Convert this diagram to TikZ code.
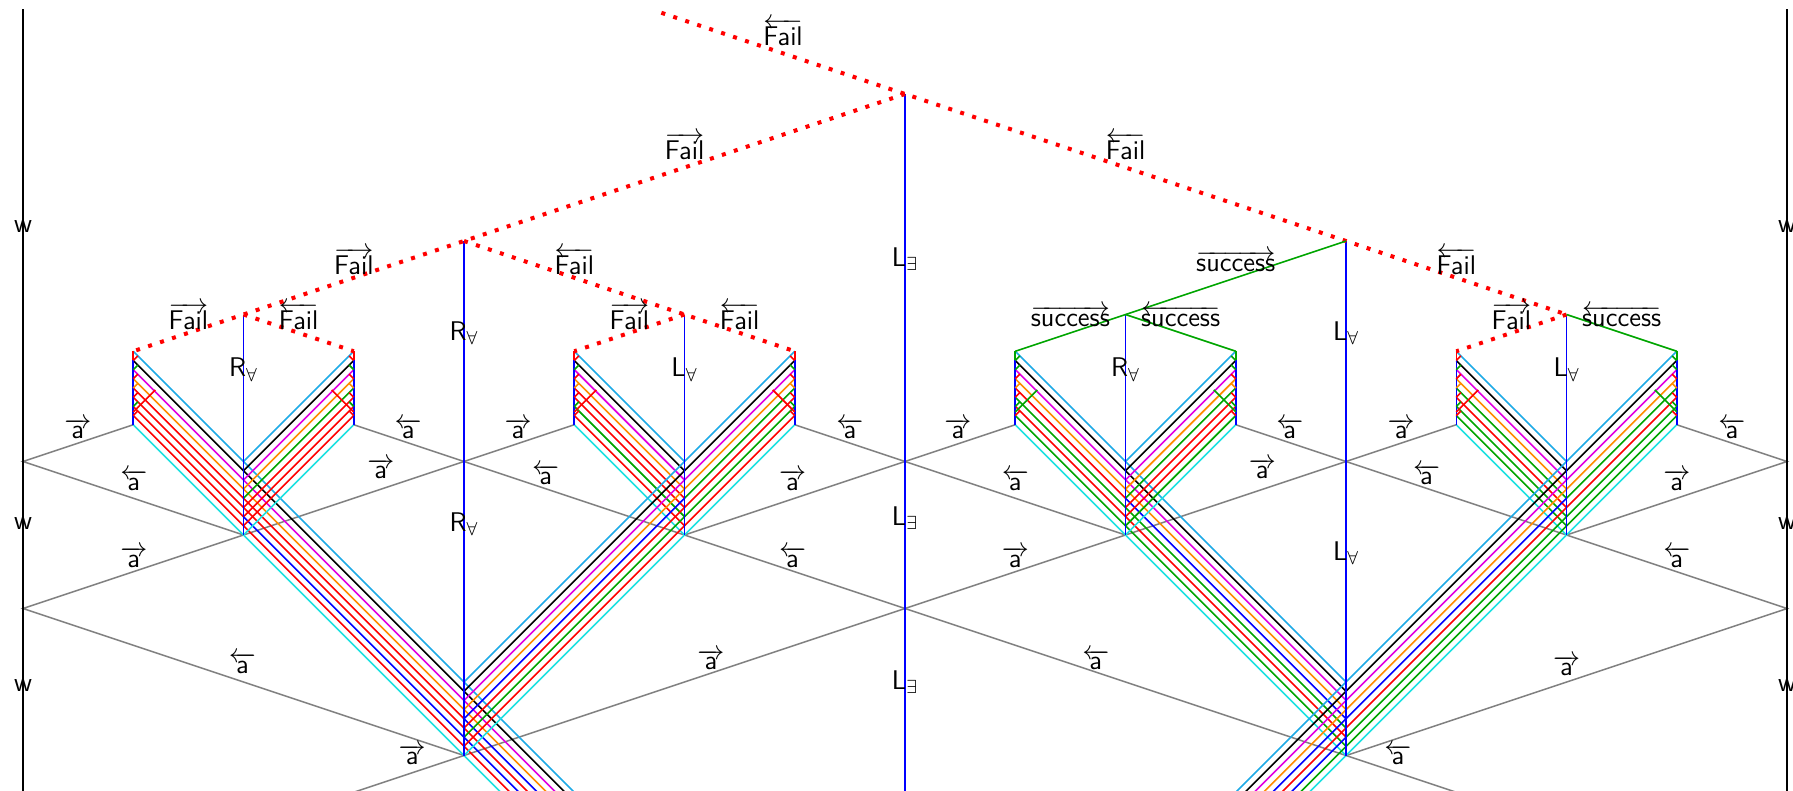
\RequirePackage{fix-cm}
\documentclass[tikz,border=0pt]{standalone}
\usepackage{fontspec}
\definecolor{lb}{RGB}{30,170,230}
\definecolor{cy}{RGB}{30,225,225}
\definecolor{mg}{RGB}{225,0,225}
\definecolor{og}{RGB}{255,140,0}
\definecolor{gr}{RGB}{0,165,0}
\definecolor{rd}{RGB}{255,0,0}
\definecolor{bu}{RGB}{0,0,255}
\definecolor{bk}{RGB}{0,0,0}
\definecolor{gy}{RGB}{128,128,128}

% a bundle of nine parallel strands leaving the box edge at column #1,
% heading in direction #2 (+1 right, -1 left), drawn between the
% horizontal distances #3 and #4 from the box, one colour per strand
\newcommand\strands[5]{%
  \foreach \col [count=\k from 0] in {#5}{%
    \draw[strand,\col] ({#1+(#2)*(#3)},{7+\k/4+3*(#3)}) -- ({#1+(#2)*(#4)},{7+\k/4+3*(#4)});
  }}

% the vertical edge of a box with its small reflected stubs
\newcommand\boxedge[3]{%
  \draw[strand,bu] (#1,7.25) -- (#1,9);
  \draw[strand,#3] (#1,7) -- (#1,7.25);
  \foreach \k/\col in {1/#3,2/gr,3/rd,4/og,5/rd,6/gr,7/rd}
    \draw[stub,\col] (#1,{7+\k/4}) -- ({#1+(#2)/24},{7+\k/4-1/8});
  \draw[stub,#3] (#1,8.65) -- ({#1+(#2)*0.2},8.05);
}

\begin{document}
\begin{tikzpicture}[x=55.125pt,y=-18.375pt,
  every node/.style={font=\fontsize{13.5}{16}\selectfont\sffamily,inner sep=0pt},
  gline/.style={gy,line width=0.75pt},
  strand/.style={line width=0.8pt},
  stub/.style={line width=0.8pt},
  vline/.style={bu,line width=0.8pt},
  wall/.style={black,line width=0.9pt},
  failedge/.style={rd,line width=2pt,dash pattern=on 2pt off 4.3pt},
  okedge/.style={gr,line width=0.8pt}]
\useasboundingbox (-0.2086,-2.558) rectangle (16.054,18.939);
\clip (-0.2086,-2.558) rectangle (16.054,18.939);

% tree nodes
\coordinate (start) at (5.79,-2.21);
\coordinate (root) at (8,0);
\coordinate (nL) at (4,4);
\coordinate (nR) at (12,4);
\coordinate (nLL) at (2,6);
\coordinate (nLR) at (6,6);
\coordinate (nRL) at (10,6);
\coordinate (nRR) at (14,6);
\foreach \c in {1,3,5,7,9,11,13,15}{
  \coordinate (b\c) at (\c,7);
  \coordinate (bb\c) at (\c,9);
}
% lattice vertices
\coordinate (v0) at (0,10);
\coordinate (v2) at (2,12);
\coordinate (v4) at (4,10);
\coordinate (v6) at (6,12);
\coordinate (v8) at (8,10);
\coordinate (v10) at (10,12);
\coordinate (v12) at (12,10);
\coordinate (v14) at (14,12);
\coordinate (v16) at (16,10);
\coordinate (w0) at (0,14);
\coordinate (w8) at (8,14);
\coordinate (w16) at (16,14);
\coordinate (z4) at (4,18);
\coordinate (z12) at (12,18);
\coordinate (exR) at (13,19);
\coordinate (exL) at (3,19);
\coordinate (topL) at (0,-2.3);
\coordinate (botL) at (0,19.2);
\coordinate (topR) at (16,-2.3);
\coordinate (botR) at (16,19.2);
\coordinate (botM) at (8,19.2);

% gray lattice
\draw[gline] (bb1) -- (v0) -- (v2);
\draw[gline] (bb5) -- (w0) -- (z4);
\draw[gline] (bb3) -- (exR);
\draw[gline] (bb7) -- (v10);
\draw[gline] (bb9) -- (v6);
\draw[gline] (bb15) -- (v16) -- (v14);
\draw[gline] (bb11) -- (w16) -- (z12);
\draw[gline] (bb13) -- (exL);

% strand bundles
\strands{1}{1}{0}{1}{lb,bk,mg,og,rd,rd,rd,rd,cy}
\strands{1}{1}{1}{3}{lb,bk,mg,og,rd,rd,bu,rd,cy}
\strands{1}{1}{3}{5}{lb,bk,mg,og,bu,rd,bu,rd,cy}
\strands{3}{-1}{0}{1}{lb,bk,mg,og,gr,rd,rd,rd,cy}
\strands{5}{1}{0}{1}{lb,bk,mg,og,rd,rd,gr,rd,cy}
\strands{7}{-1}{0}{1}{lb,bk,mg,og,gr,rd,gr,rd,cy}
\strands{7}{-1}{1}{3}{lb,bk,mg,og,bu,rd,gr,rd,cy}
\strands{9}{1}{0}{1}{lb,bk,mg,og,rd,gr,rd,gr,cy}
\strands{9}{1}{1}{3}{lb,bk,mg,og,bu,gr,rd,gr,cy}
\strands{11}{-1}{0}{1}{lb,bk,mg,og,gr,rd,rd,gr,cy}
\strands{13}{1}{0}{1}{lb,bk,mg,og,gr,rd,gr,gr,cy}
\strands{15}{-1}{0}{1}{lb,bk,mg,og,gr,rd,gr,gr,cy}
\strands{15}{-1}{1}{3}{lb,bk,mg,og,bu,rd,gr,gr,cy}
\strands{15}{-1}{3}{5}{lb,bk,mg,og,bu,rd,bu,gr,cy}

% box edges
\boxedge{1}{1}{rd}
\boxedge{3}{-1}{rd}
\boxedge{5}{1}{rd}
\boxedge{7}{-1}{rd}
\boxedge{9}{1}{gr}
\boxedge{11}{-1}{gr}
\boxedge{13}{1}{rd}
\boxedge{15}{-1}{gr}

% walls and rule lines
\draw[wall] (topL) -- (botL);
\draw[wall] (topR) -- (botR);
\draw[vline] (root) -- (botM);
\draw[vline] (nL) -- (z4);
\draw[vline] (nR) -- (z12);
\draw[vline] (nLL) -- (v2);
\draw[vline] (nLR) -- (v6);
\draw[vline] (nRL) -- (v10);
\draw[vline] (nRR) -- (v14);

% search tree
\draw[failedge] (start) -- (root) -- (nR) -- (nRR);
\draw[failedge] (root) -- (nL) -- (nLL) -- (b1);
\draw[failedge] (nL) -- (nLR) -- (b7);
\draw[failedge] (nLL) -- (b3);
\draw[failedge] (nLR) -- (b5);
\draw[failedge] (nRR) -- (b13);
\draw[okedge] (nR) -- (nRL) -- (b9);
\draw[okedge] (nRL) -- (b11);
\draw[okedge] (nRR) -- (b15);

% edge labels of the tree
\node (f0) at (6.893,-1.68) {$\overleftarrow{\textsf{Fail}}$};
\node (f1) at (6,1.42) {$\overrightarrow{\textsf{Fail}}$};
\node (f2) at (10,1.42) {$\overleftarrow{\textsf{Fail}}$};
\node (f3) at (3,4.55) {$\overrightarrow{\textsf{Fail}}$};
\node (f4) at (5,4.55) {$\overleftarrow{\textsf{Fail}}$};
\node (s1) at (11,4.55) {$\overrightarrow{\textsf{success}}$};
\node (f5) at (13,4.55) {$\overleftarrow{\textsf{Fail}}$};
\node (f6) at (1.5,6.05) {$\overrightarrow{\textsf{Fail}}$};
\node (f7) at (2.5,6.05) {$\overleftarrow{\textsf{Fail}}$};
\node (f8) at (5.5,6.05) {$\overrightarrow{\textsf{Fail}}$};
\node (f9) at (6.5,6.05) {$\overleftarrow{\textsf{Fail}}$};
\node (s2) at (9.5,6.05) {$\overrightarrow{\textsf{success}}$};
\node (s3) at (10.5,6.05) {$\overleftarrow{\textsf{success}}$};
\node (f10) at (13.5,6.05) {$\overrightarrow{\textsf{Fail}}$};
\node (s4) at (14.5,6.05) {$\overleftarrow{\textsf{success}}$};

% rule labels
\node (q1) at (2,7.5) {R$_\forall$};
\node (q2) at (6,7.5) {L$_\forall$};
\node (q3) at (10,7.5) {R$_\forall$};
\node (q4) at (14,7.5) {L$_\forall$};
\node (q5) at (4,6.5) {R$_\forall$};
\node (q6) at (4,11.7) {R$_\forall$};
\node (q7) at (12,6.5) {L$_\forall$};
\node (q8) at (12,12.5) {L$_\forall$};
\node (e1) at (8,4.5) {L$_\exists$};
\node (e2) at (8,11.54) {L$_\exists$};
\node (e3) at (8,16.0) {L$_\exists$};
\node (wl1) at (0,3.6) {w};
\node (wl2) at (0,11.7) {w};
\node (wl3) at (0,16.1) {w};
\node (wr1) at (16,3.6) {w};
\node (wr2) at (16,11.7) {w};
\node (wr3) at (16,16.1) {w};

% lattice labels
\foreach \x/\y/\d [count=\n] in {
  0.497/9.11/r, 1.005/10.51/l, 3.494/9.11/l, 3.245/10.2/r,
  4.49/9.11/r, 4.74/10.36/l, 7.5/9.11/l, 6.98/10.51/r,
  8.48/9.11/r, 9.0/10.51/l, 11.49/9.11/l, 11.24/10.2/r,
  12.5/9.11/r, 12.73/10.36/l, 15.5/9.11/l, 15.0/10.51/r,
  1.005/12.6/r, 6.98/12.6/l, 9.0/12.6/r, 15.0/12.6/l,
  1.99/15.49/l, 6.24/15.4/r, 9.73/15.4/l, 14.0/15.55/r,
  3.53/17.98/r, 12.47/17.98/l}{
  \if\d r
    \node (a\n) at (\x,\y) {$\overrightarrow{\textsf{a}}$};
  \else
    \node (a\n) at (\x,\y) {$\overleftarrow{\textsf{a}}$};
  \fi
}
\end{tikzpicture}
\end{document}
